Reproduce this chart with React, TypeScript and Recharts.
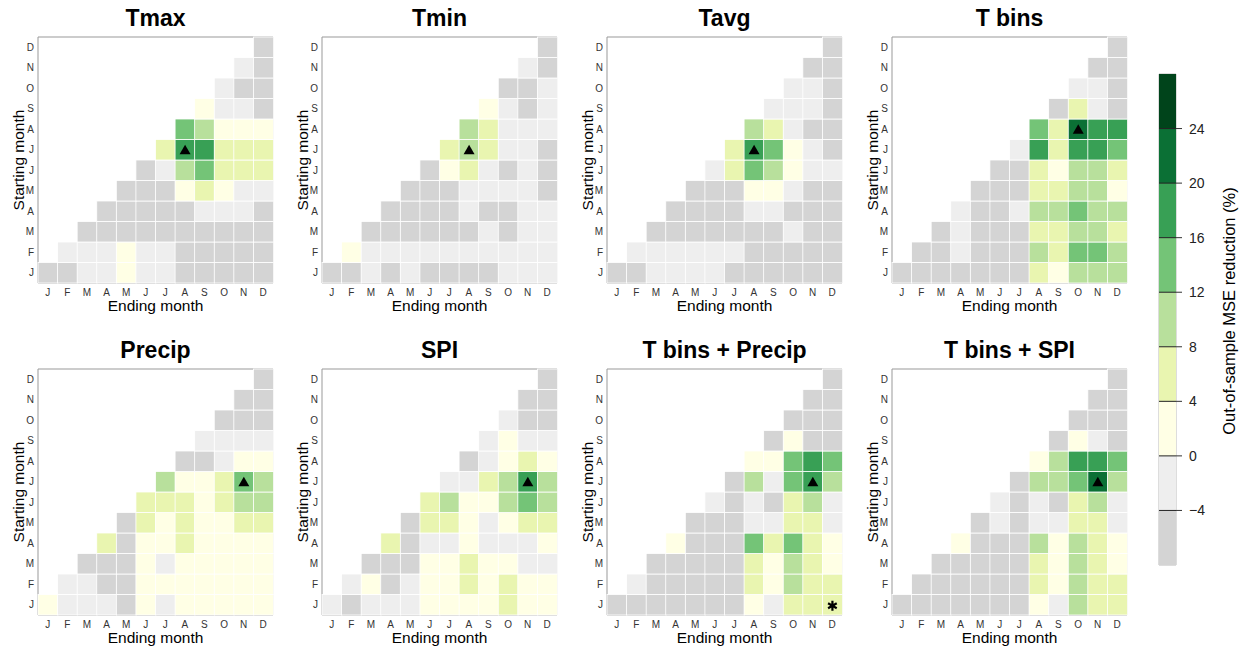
import { BarChart, Bar, XAxis, YAxis, ReferenceArea, ReferenceLine } from "recharts";

const MONTHS = ["Jan", "Feb", "Mar", "Apr", "May", "Jun", "Jul", "Aug", "Sep", "Oct", "Nov", "Dec"];
const LETTERS = ["J", "F", "M", "A", "M", "J", "J", "A", "S", "O", "N", "D"];

// rows = starting month (Jan..Dec), values run from ending month = start .. Dec (MSE reduction, %)
const tmax = [
  [-6, -6, -2, -2, 2, -2, -2, -6, -6, -6, -6, -6],
  [-2, -2, -2, 2, -2, -2, -6, -6, -6, -6, -6],
  [-6, -6, -6, -6, -6, -6, -6, -6, -6, -6],
  [-6, -6, -6, -6, -6, -2, -2, -2, -6],
  [-6, -6, -6, 2, 6, 2, -2, -2],
  [-6, -2, 10, 14, 6, 6, 6],
  [6, 18, 18, 6, 6, 6],
  [14, 10, 2, 2, 2],
  [2, -2, -2, -6],
  [-2, -6, -6],
  [-2, -6],
  [-6],
];
const tmin = [
  [-6, -6, -2, -6, -2, -6, -6, -6, -6, -2, -2, -2],
  [2, -2, -2, -2, -2, -2, -2, -2, -2, -2, -2],
  [-6, -6, -6, -6, -6, -6, -2, -6, -2, -2],
  [-6, -6, -6, -6, -2, -6, -6, -2, -2],
  [-6, -6, -6, -2, -2, -2, -2, -6],
  [-6, 2, 6, -2, -6, -2, -6],
  [6, 10, 6, -2, -2, -6],
  [10, 6, -2, -2, -2],
  [2, -2, -6, -2],
  [-6, -6, -2],
  [-2, -6],
  [-6],
];
const tavg = [
  [-6, -6, -2, -2, -2, -2, -6, -6, -6, -6, -6, -6],
  [-2, -2, -2, -2, -2, -2, -6, -6, -6, -6, -6],
  [-6, -6, -6, -6, -6, -6, -6, -2, -6, -6],
  [-6, -6, -6, -6, -2, -2, -6, -6, -6],
  [-6, -6, -6, 2, 2, -2, -6, -6],
  [-2, 6, 14, 10, 2, -2, -2],
  [6, 18, 14, 2, -2, -6],
  [10, 6, -2, -6, -6],
  [-2, -2, -2, -6],
  [-2, -2, -6],
  [-6, -6],
  [-6],
];
const tbins = [
  [-6, -6, -6, -6, -6, -6, -6, 6, 2, 10, 10, 10],
  [-6, -6, -2, -6, -6, -6, 10, 6, 14, 14, 10],
  [-6, -2, -6, -6, -6, 6, 6, 10, 10, 6],
  [-2, -6, -6, -2, 10, 10, 14, 10, 10],
  [-6, -6, -6, 6, 6, 10, 10, 2],
  [-6, -6, 6, 2, 10, 10, 6],
  [-2, 18, 6, 18, 18, 14],
  [14, 6, 22, 18, 18],
  [-6, 6, -2, -6],
  [-2, -2, -6],
  [-6, -6],
  [-6],
];
const precip = [
  [2, -2, -2, -2, -6, 2, -2, 2, 2, 2, 2, 2],
  [-2, -2, -6, -6, 2, 2, 2, 2, 2, 2, 2],
  [-6, -6, -6, 2, -2, 2, 2, 2, 2, 2],
  [6, -6, 2, 2, 6, 2, 2, 2, 2],
  [-6, 6, 2, 6, 2, 2, 6, 6],
  [6, 6, 6, 2, 6, 10, 10],
  [10, 2, 2, 6, 14, 10],
  [-6, -6, -2, 2, 2],
  [-2, -2, -2, -2],
  [-6, -6, -6],
  [-6, -6],
  [-6],
];
const spi = [
  [-2, -6, -2, -2, -2, 2, 2, 2, 2, 6, 2, 2],
  [-2, 2, -6, -2, 2, 2, 6, 2, 6, 2, 2],
  [-6, -6, -6, 2, 2, 6, 2, 2, -2, -2],
  [6, -6, -2, -2, 2, -2, -2, -2, 2],
  [-6, 6, 6, 2, -2, 2, 6, 6],
  [6, 10, 2, 2, 10, 14, 10],
  [-2, -2, 6, 10, 18, 10],
  [-6, -2, 2, 6, 2],
  [-2, 2, -2, -2],
  [-2, -6, -6],
  [-6, -6],
  [-6],
];
const tbinsPrecip = [
  [-6, -6, -6, -6, -6, -6, -6, 2, -2, 6, 6, 6],
  [-2, -6, -6, -6, -6, -6, 6, 2, 10, 6, 6],
  [-6, -6, -6, -6, -6, 6, 2, 10, 6, 2],
  [2, -6, -6, -6, 14, 6, 14, 6, 2],
  [-6, -6, -6, -2, -2, 6, 6, -2],
  [-2, -6, -2, -6, 6, 10, -2],
  [-6, 10, -2, 14, 18, 10],
  [2, 2, 14, 18, 14],
  [-6, 2, -6, -6],
  [-6, -6, -6],
  [-6, -6],
  [-6],
];
const tbinsSpi = [
  [-6, -6, -6, -6, -6, -6, -6, 2, -2, 10, 6, 6],
  [-6, -6, -6, -6, -6, -6, 6, 2, 10, 6, 6],
  [-6, -6, -6, -6, -6, 6, 2, 10, 6, 2],
  [2, -6, -6, -6, 10, 2, 10, 6, 2],
  [-6, -2, -6, -2, -2, 6, 6, -2],
  [-2, -6, -2, -6, 6, 10, -2],
  [-6, 10, 10, 14, 22, 10],
  [2, 10, 18, 18, 14],
  [-6, 2, -2, -6],
  [-6, -6, -6],
  [-6, -6],
  [-6],
];

// colour bins of the scale bar
const levels = [-8, -4, 0, 4, 8, 12, 16, 20, 24, 28];
const levelColors = ["#d4d4d4", "#eeeeee", "#ffffe5", "#e9f5b0", "#b8e09c", "#74c477", "#38a055", "#0b7035", "#00441b"];
const barTicks = [-4, 0, 4, 8, 12, 16, 20, 24];

const colorOf = (v: number) => {
  for (let i = 1; i < levels.length; i++) if (v < levels[i]) return levelColors[i - 1];
  return levelColors[levelColors.length - 1];
};

const panels = [
  { title: "Tmax", rows: tmax, best: [6, 7], star: null, left: 38, top: 37 },
  { title: "Tmin", rows: tmin, best: [6, 7], star: null, left: 322, top: 37 },
  { title: "Tavg", rows: tavg, best: [6, 7], star: null, left: 607, top: 37 },
  { title: "T bins", rows: tbins, best: [7, 9], star: null, left: 892, top: 37 },
  { title: "Precip", rows: precip, best: [6, 10], star: null, left: 38, top: 369 },
  { title: "SPI", rows: spi, best: [6, 10], star: null, left: 322, top: 369 },
  { title: "T bins + Precip", rows: tbinsPrecip, best: [6, 10], star: [0, 11], left: 607, top: 369 },
  { title: "T bins + SPI", rows: tbinsSpi, best: [6, 10], star: null, left: 892, top: 369 },
];

const PW = 235;
const PH = 246;
const FONT = "'Liberation Sans', Arial, sans-serif";

const asterisk = (cx: number, cy: number, r: number) =>
  [90, 30, 150]
    .map((a) => {
      const dx = r * Math.cos((a * Math.PI) / 180);
      const dy = r * Math.sin((a * Math.PI) / 180);
      return `M${cx - dx},${cy - dy} L${cx + dx},${cy + dy}`;
    })
    .join(" ");

const makeShape = (rows: number[][], r: number, best: number[], star: number[] | null) => (props: any) => {
  const { x, y, width, height, payload } = props;
  const e = payload.idx;
  if (e < r || !height) return <g />;
  const v = rows[r][e - r];
  const cx = x + width / 2;
  const cy = y + height / 2;
  return (
    <g>
      <rect x={x} y={y} width={width} height={height} fill={colorOf(v)} stroke="#fff" strokeWidth={0.8} />
      {best[0] === r && best[1] === e && (
        <path d={`M${cx - 5.5},${cy + 4.5} L${cx + 5.5},${cy + 4.5} L${cx},${cy - 5} Z`} fill="#000" />
      )}
      {star && star[0] === r && star[1] === e && (
        <path d={asterisk(cx, cy + 1, 5)} stroke="#000" strokeWidth={2.2} fill="none" />
      )}
    </g>
  );
};

const Panel = ({ p }: { p: (typeof panels)[number] }) => {
  const data = MONTHS.map((m, e) => {
    const d: any = { end: m, idx: e };
    for (let r = 0; r < 12; r++) d["r" + r] = e >= r ? 1 : 0;
    return d;
  });
  return (
    <div style={{ position: "absolute", left: p.left - 30, top: p.top - 5 }}>
      <BarChart
        width={30 + PW + 5}
        height={5 + PH + 25}
        data={data}
        margin={{ top: 5, right: 5, bottom: 0, left: 0 }}
        barCategoryGap={0}
        barGap={0}
      >
        <XAxis
          dataKey="end"
          type="category"
          interval={0}
          height={25}
          tickFormatter={(v: string) => v[0]}
          tickLine={false}
          axisLine={false}
          tickSize={0}
          tickMargin={6}
          tick={{ fontSize: 10, fill: "#333", fontFamily: FONT }}
        />
        <YAxis
          type="number"
          domain={[0, 12]}
          ticks={[0.5, 1.5, 2.5, 3.5, 4.5, 5.5, 6.5, 7.5, 8.5, 9.5, 10.5, 11.5]}
          interval={0}
          width={30}
          tickFormatter={(v: number) => LETTERS[Math.floor(v)]}
          tickLine={false}
          axisLine={false}
          tickSize={0}
          tickMargin={4}
          tick={{ fontSize: 10, fill: "#333", fontFamily: FONT }}
        />
        {MONTHS.map((_, r) => (
          <Bar
            key={r}
            dataKey={"r" + r}
            stackId="s"
            isAnimationActive={false}
            shape={makeShape(p.rows, r, p.best, p.star)}
          />
        ))}
        <ReferenceArea x1="Jan" x2="Dec" y1={0} y2={12} fill="none" stroke="#999" strokeWidth={1} ifOverflow="visible" />
      </BarChart>
    </div>
  );
};

// stacked pieces of the scale bar: negatives stack down from 0, positives up from 0
const barPieces = [
  { key: "m0", value: -4, color: levelColors[1] },
  { key: "m1", value: -4, color: levelColors[0] },
  { key: "p0", value: 4, color: levelColors[2] },
  { key: "p1", value: 4, color: levelColors[3] },
  { key: "p2", value: 4, color: levelColors[4] },
  { key: "p3", value: 4, color: levelColors[5] },
  { key: "p4", value: 4, color: levelColors[6] },
  { key: "p5", value: 4, color: levelColors[7] },
  { key: "p6", value: 4, color: levelColors[8] },
];

const ColorBar = () => {
  const row: any = { k: "bar" };
  barPieces.forEach((b) => (row[b.key] = b.value));
  return (
    <div style={{ position: "absolute", left: 1150, top: 64 }}>
      <BarChart
        width={80}
        height={511}
        data={[row]}
        margin={{ top: 10, right: 0, bottom: 10, left: 9 }}
        barCategoryGap={0}
        stackOffset="sign"
      >
        <XAxis dataKey="k" hide />
        <YAxis
          orientation="right"
          type="number"
          domain={[-8, 28]}
          ticks={barTicks}
          interval={0}
          width={54}
          axisLine={false}
          tickSize={6}
          tickMargin={7}
          tickLine={{ stroke: "#333" }}
          tickFormatter={(v: number) => (v < 0 ? "\u2212" + Math.abs(v) : String(v))}
          tick={{ fontSize: 14, fill: "#222", fontFamily: FONT, textAnchor: "start" }}
        />
        {barPieces.map((b) => (
          <Bar key={b.key} dataKey={b.key} stackId="c" fill={b.color} isAnimationActive={false} />
        ))}
        {barTicks.map((t) => (
          <ReferenceLine key={t} y={t} stroke="#222" strokeWidth={1} />
        ))}
        <ReferenceArea y1={-8} y2={28} fill="none" stroke="#bbb" ifOverflow="visible" />
      </BarChart>
    </div>
  );
};

export default function App() {
  return (
    <div
      style={{
        position: "absolute",
        left: 0,
        top: 0,
        width: 1246,
        height: 651,
        background: "#fff",
        fontFamily: FONT,
      }}
    >
      {panels.map((p) => (
        <Panel key={p.title} p={p} />
      ))}
      <ColorBar />
      <svg width={1246} height={651} style={{ position: "absolute", left: 0, top: 0, pointerEvents: "none" }}>
        {panels.map((p) => (
          <g key={p.title} fontFamily={FONT} fill="#000">
            <text x={p.left + PW / 2} y={p.top - 11} textAnchor="middle" fontSize={23} fontWeight="bold">
              {p.title}
            </text>
            <text x={p.left + PW / 2} y={p.top + PH + 28} textAnchor="middle" fontSize={15.5}>
              Ending month
            </text>
            <text
              transform={`translate(${p.left - 14},${p.top + PH / 2}) rotate(-90)`}
              textAnchor="middle"
              fontSize={15.5}
            >
              Starting month
            </text>
          </g>
        ))}
        <text
          transform="translate(1235,311) rotate(-90)"
          textAnchor="middle"
          fontSize={16.5}
          fontFamily={FONT}
          fill="#000"
        >
          Out-of-sample MSE reduction (%)
        </text>
      </svg>
    </div>
  );
}
